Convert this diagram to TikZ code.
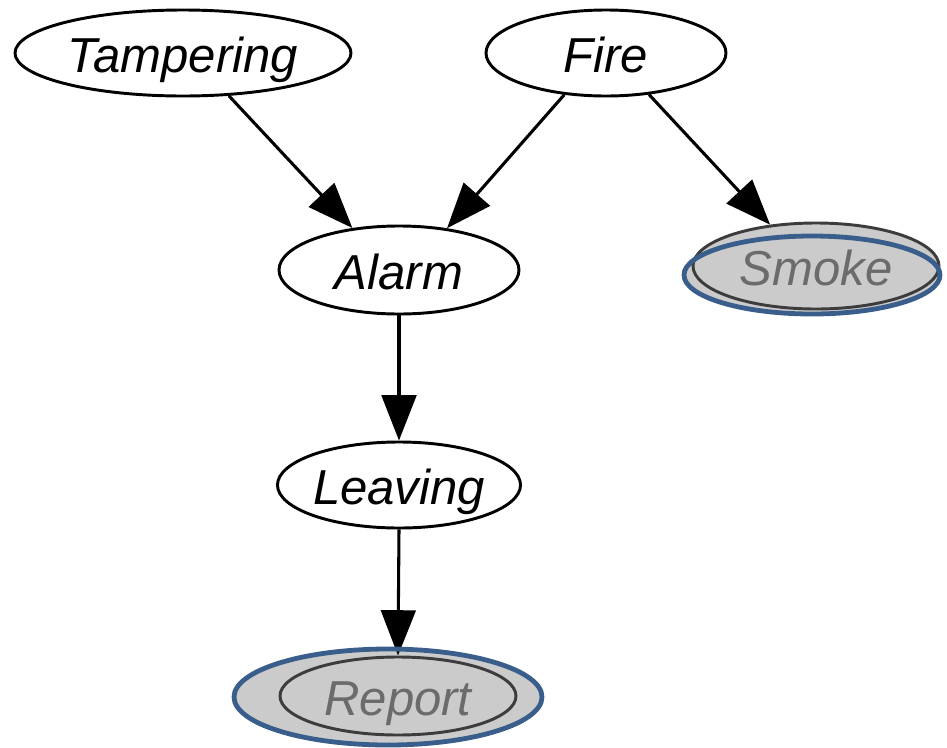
\documentclass[tikz,border=0pt]{standalone}
\usepackage{fontspec}
\setmainfont{Liberation Sans}
\usetikzlibrary{shapes.geometric,arrows.meta}
\definecolor{hlblue}{HTML}{3A5E8C}
\definecolor{obsgray}{HTML}{CBCBCB}
\definecolor{obstext}{HTML}{6B6B6B}
\definecolor{obsline}{HTML}{3C3C3C}
\begin{document}
\begin{tikzpicture}[x=0.75pt,y=-0.75pt,
  var/.style={ellipse, draw=black, line width=2.2pt, inner sep=0pt, fill=white,
    font=\fontsize{36.8}{44}\selectfont\itshape, text height=29.4pt, text depth=0pt},
  obs/.style={var, draw=obsline, fill=obsgray, text=obstext},
  ringbg/.style={ellipse, inner sep=0pt, fill=obsgray},
  ring/.style={ellipse, draw=hlblue, line width=3.6pt, inner sep=0pt},
  arr/.style={line width=2.3pt, -{Triangle[length=34pt,width=26pt]}}]
\useasboundingbox (0,0) rectangle (947,747);

% gray underlay of highlight rings
\node[ringbg, minimum width=192pt, minimum height=58.5pt] (smokebg) at (812,275) {};
\node[ringbg, minimum width=231pt, minimum height=72pt] (reportbg) at (388,697) {};

% variables
\node[var, minimum width=252pt, minimum height=64.5pt] (tamp) at (183,53) {Tampering};
\node[var, minimum width=180pt, minimum height=64.5pt] (fire) at (606,53) {Fire};
\node[var, minimum width=180pt, minimum height=66pt] (alarm) at (399,270) {Alarm};
\node[var, minimum width=180pt, minimum height=64.5pt] (leave) at (399,485) {Leaving};
\node[obs, minimum width=184.5pt, minimum height=64.5pt] (smoke) at (816,266) {Smoke};
\node[obs, minimum width=177pt, minimum height=58.5pt] (report) at (398,696) {Report};

% arcs
\draw[arr] (tamp.317) -- (alarm.138);
\draw[arr] (fire.225) -- (alarm.41);
\draw[arr] (fire.316) -- (smoke.138);
\draw[arr] (alarm.south) -- (leave.north);
\draw[arr] (leave.south) -- (report.north);

% highlight rings
\node[ring, minimum width=192pt, minimum height=58.5pt] (smokering) at (812,275) {};
\node[ring, minimum width=231pt, minimum height=72pt] (reportring) at (388,697) {};
\end{tikzpicture}
\end{document}
